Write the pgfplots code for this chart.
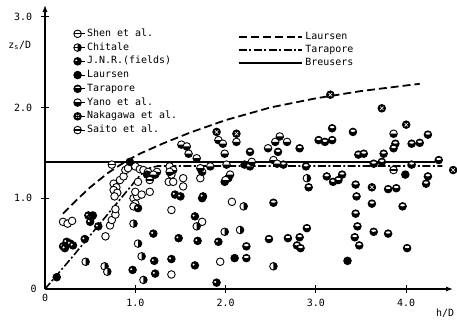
\documentclass[border=0pt]{standalone}
\usepackage{fontspec}
\setmainfont{DejaVu Sans Mono}
\usepackage{pgfplots}
\pgfplotsset{compat=1.18}
\usetikzlibrary{arrows.meta}

\pgfdeclareplotmark{shen}{%
  \begin{pgfscope}\pgfsetfillcolor{white}%
  \pgfpathcircle{\pgfpointorigin}{\pgfplotmarksize}\pgfusepathqfillstroke\end{pgfscope}}
\pgfdeclareplotmark{chitale}{%
  \begin{pgfscope}\pgfsetfillcolor{white}%
  \pgfpathcircle{\pgfpointorigin}{\pgfplotmarksize}\pgfusepathqfillstroke
  \pgfsetfillcolor{black}%
  \pgfpathmoveto{\pgfpoint{0pt}{\pgfplotmarksize}}%
  \pgfpatharc{90}{-90}{\pgfplotmarksize}\pgfpathclose\pgfusepathqfill\end{pgfscope}}
\pgfdeclareplotmark{jnr}{%
  \begin{pgfscope}\pgfsetfillcolor{black}%
  \pgfpathcircle{\pgfpointorigin}{\pgfplotmarksize}\pgfusepathqfillstroke
  \pgfsetfillcolor{white}%
  \pgfpathcircle{\pgfpoint{-0.35\pgfplotmarksize}{0.2\pgfplotmarksize}}{0.3\pgfplotmarksize}\pgfusepathqfill\end{pgfscope}}
\pgfdeclareplotmark{laursen}{%
  \begin{pgfscope}\pgfsetfillcolor{black}%
  \pgfpathcircle{\pgfpointorigin}{\pgfplotmarksize}\pgfusepathqfillstroke\end{pgfscope}}
\pgfdeclareplotmark{tara}{%
  \begin{pgfscope}\pgfsetfillcolor{black}%
  \pgfpathcircle{\pgfpointorigin}{\pgfplotmarksize}\pgfusepathqfillstroke
  \pgfsetfillcolor{white}%
  \pgfpathellipse{\pgfpoint{0pt}{0.3\pgfplotmarksize}}{\pgfpoint{0.62\pgfplotmarksize}{0pt}}{\pgfpoint{0pt}{0.3\pgfplotmarksize}}\pgfusepathqfill\end{pgfscope}}
\pgfdeclareplotmark{yano}{%
  \begin{pgfscope}\pgfsetfillcolor{white}%
  \pgfpathcircle{\pgfpointorigin}{\pgfplotmarksize}\pgfusepathqfillstroke
  \pgfsetfillcolor{black}%
  \pgfpathmoveto{\pgfpoint{\pgfplotmarksize}{0pt}}%
  \pgfpatharc{0}{-180}{\pgfplotmarksize}\pgfpathclose\pgfusepathqfill\end{pgfscope}}
\pgfdeclareplotmark{naka}{%
  \begin{pgfscope}\pgfsetfillcolor{black}%
  \pgfpathcircle{\pgfpointorigin}{\pgfplotmarksize}\pgfusepathqfillstroke
  \pgfsetstrokecolor{white}\pgfsetlinewidth{0.6pt}%
  \pgfpathmoveto{\pgfpoint{-0.45\pgfplotmarksize}{-0.45\pgfplotmarksize}}\pgfpathlineto{\pgfpoint{0.45\pgfplotmarksize}{0.45\pgfplotmarksize}}%
  \pgfpathmoveto{\pgfpoint{-0.45\pgfplotmarksize}{0.45\pgfplotmarksize}}\pgfpathlineto{\pgfpoint{0.45\pgfplotmarksize}{-0.45\pgfplotmarksize}}%
  \pgfusepathqstroke\end{pgfscope}}
\pgfdeclareplotmark{saito}{%
  \begin{pgfscope}\pgfsetfillcolor{white}%
  \pgfpathcircle{\pgfpointorigin}{\pgfplotmarksize}\pgfusepathqfillstroke
  \pgfsetlinewidth{1.3pt}%
  \pgfpathmoveto{\pgfpoint{-\pgfplotmarksize}{0pt}}\pgfpathlineto{\pgfpoint{\pgfplotmarksize}{0pt}}\pgfusepathqstroke\end{pgfscope}}

\pgfplotstableread{
x y
0.20 0.74
0.25 0.72
0.30 0.75
0.67 0.58
0.72 0.70
0.74 0.76
0.78 0.82
0.78 0.88
0.76 1.16
0.79 1.12
0.76 1.09
0.80 1.06
0.77 1.02
0.83 1.20
0.87 1.24
0.89 1.31
0.92 1.33
0.98 1.00
1.00 0.94
0.98 0.91
1.02 1.02
1.00 1.07
1.00 1.35
1.05 1.32
1.03 1.18
1.09 1.31
1.07 1.04
1.16 1.07
1.14 1.29
1.38 1.35
1.40 1.26
1.37 1.18
1.42 1.18
1.40 0.87
1.40 0.16
1.53 1.13
1.53 1.22
1.72 1.22
1.74 0.74
2.07 0.96
1.94 0.30
}\shen
\pgfplotstableread{
x y
0.45 0.30
0.66 0.25
0.69 0.19
0.98 0.72
1.03 0.50
1.09 0.10
1.68 0.69
1.99 0.63
2.20 0.91
2.16 0.65
2.53 0.25
2.90 1.22
1.07 0.36
}\chitale
\pgfplotstableread{
x y
0.20 0.47
0.24 0.52
0.28 0.50
0.22 0.45
0.31 0.48
0.44 0.55
0.59 0.69
1.20 0.61
1.21 0.31
1.22 0.17
1.48 0.56
1.66 0.26
1.69 0.53
1.90 0.07
1.92 0.52
1.03 0.89
0.97 0.21
1.40 0.33
1.66 0.80
1.74 1.00
1.75 1.02
1.44 1.04
1.50 1.02
0.48 0.81
0.51 0.79
0.50 0.74
}\jnr
\pgfplotstableread{
x y
0.13 0.13
0.94 1.40
1.13 1.26
1.22 1.26
3.35 0.31
3.99 1.26
2.10 0.34
1.99 1.18
2.03 1.22
2.21 1.37
0.53 0.81
}\laursen
\pgfplotstableread{
x y
2.23 0.47
2.23 0.34
2.48 0.55
2.69 0.56
2.82 0.57
2.79 0.48
2.83 0.45
2.90 0.67
2.89 1.35
2.92 1.12
3.12 1.24
3.19 1.18
3.25 1.20
3.29 1.26
3.44 1.15
3.45 1.02
3.44 0.83
3.46 0.69
3.43 0.57
3.48 0.48
3.64 0.63
3.80 1.10
3.89 1.11
3.80 0.61
3.96 0.91
4.01 0.45
4.22 1.16
4.24 1.24
3.62 0.94
2.53 0.95
3.03 1.64
3.10 1.62
3.18 1.64
3.18 1.77
3.41 1.73
3.88 1.60
3.86 1.55
4.06 1.60
4.15 1.61
4.24 1.70
4.36 1.42
4.06 1.37
3.64 1.38
3.73 1.40
3.75 1.49
3.47 1.48
3.53 1.49
2.82 1.55
2.27 1.51
2.58 1.51
2.64 1.37
}\tara
\pgfplotstableread{
x y
1.51 1.59
1.57 1.57
1.59 1.49
1.68 1.44
1.92 1.64
1.97 1.60
1.99 1.49
2.12 1.62
2.47 1.55
2.55 1.62
2.60 1.68
2.68 1.62
2.01 1.37
2.05 1.26
2.00 1.20
2.27 1.35
2.29 1.40
2.53 1.42
2.57 1.38
1.74 1.29
1.83 1.35
1.24 1.29
1.20 1.26
1.42 1.31
1.38 1.29
3.86 1.71
1.72 1.33
}\yano
\pgfplotstableread{
x y
3.73 1.99
4.00 1.81
3.62 1.12
4.52 1.31
3.16 2.14
1.90 1.73
2.12 1.71
}\naka
\pgfplotstableread{
x y
0.74 1.37
3.86 1.31
1.16 1.20
}\saito

\begin{document}
\begin{tikzpicture}[font=\fontsize{10}{12}\selectfont]
\pgfplotsset{
  base/.style={x=90.3bp, y=90.8bp, xmin=0, xmax=4.52, ymin=0, ymax=3.13,
    clip=false, scale only axis},
}
\begin{axis}[base,
  axis lines=left,
  axis line style={line width=1.4pt, -{Latex[length=7pt,width=5pt]}},
  xtick={1,2,3,4}, xticklabels={1.0,2.0,3.0,4.0},
  ytick={1,2,3}, yticklabels={1.0,2.0,3.0},
  extra x ticks={0}, extra x tick labels={0},
  extra y ticks={0}, extra y tick labels={0},
  extra tick style={major tick length=0pt},
  tick style={black, line width=1.1pt}, major tick length=9pt, tick align=center,
  xticklabel style={yshift=-2pt},
  yticklabel style={xshift=-5pt},
  every axis y label/.style={at={(axis cs:-0.28,2.68)}, anchor=center},
  every axis x label/.style={at={(axis cs:4.43,-0.27)}, anchor=center},
  ylabel={z\textsubscript{s}/D}, xlabel={h/D},
  legend style={at={(axis cs:2.10,2.87)}, anchor=north west, draw=none, fill=none,
    row sep=0pt, nodes={text height=7.3pt, text depth=2.2pt, inner ysep=1.8pt}},
  legend cell align=left,
  legend image code/.code={\draw[#1] (0cm,0cm) -- (2.08cm,0cm); \path (0cm,0cm) -- (2.25cm,0cm);},
]
\addplot[black, line width=1.8pt, dash pattern=on 8pt off 4pt] coordinates {
(0.20,0.83) (0.35,0.98) (0.50,1.12) (0.70,1.28) (0.90,1.41) (1.05,1.49)
(1.30,1.60) (1.60,1.72) (2.00,1.86) (2.50,2.00) (3.00,2.10) (3.50,2.18) (4.15,2.26)};
\addlegendentry{Laursen}
\addplot[black, line width=1.6pt, dash pattern=on 8pt off 2.5pt on 2pt off 2.5pt] coordinates {
(0,0) (0.30,0.35) (0.60,0.71) (0.90,1.07) (1.05,1.25) (1.15,1.33) (1.25,1.355) (4.40,1.355)};
\addlegendentry{Tarapore}
\addplot[black, line width=1.6pt] coordinates {(0,1.40) (4.32,1.40)};
\addlegendentry{Breusers}
\end{axis}

\begin{axis}[base, hide axis,
  legend style={at={(axis cs:0.28,2.91)}, anchor=north west, draw=none, fill=none,
    row sep=0pt, nodes={text height=7.5pt, text depth=2.3pt, inner ysep=2pt}},
  legend cell align=left,
  legend image code/.code={\draw[#1] plot coordinates {(0.13cm,0cm)}; \path (0cm,0cm) -- (0.38cm,0cm);},
  every axis plot/.append style={only marks, mark size=3.8pt, line width=0.9pt, black},
]
\addplot[mark=shen] table {\shen}; \addlegendentry{Shen et al.}
\addplot[mark=chitale] table {\chitale}; \addlegendentry{Chitale}
\addplot[mark=jnr] table {\jnr}; \addlegendentry{J.N.R.(fields)}
\addplot[mark=laursen] table {\laursen}; \addlegendentry{Laursen}
\addplot[mark=tara] table {\tara}; \addlegendentry{Tarapore}
\addplot[mark=yano] table {\yano}; \addlegendentry{Yano et al.}
\addplot[mark=naka] table {\naka}; \addlegendentry{Nakagawa et al.}
\addplot[mark=saito] table {\saito}; \addlegendentry{Saito et al.}
\coordinate (O) at (axis cs:0,0);
\end{axis}
\pgfresetboundingbox
\useasboundingbox ([shift={(-45bp,-33bp)}]O) rectangle ([shift={(412bp,289bp)}]O);
\end{tikzpicture}
\end{document}
